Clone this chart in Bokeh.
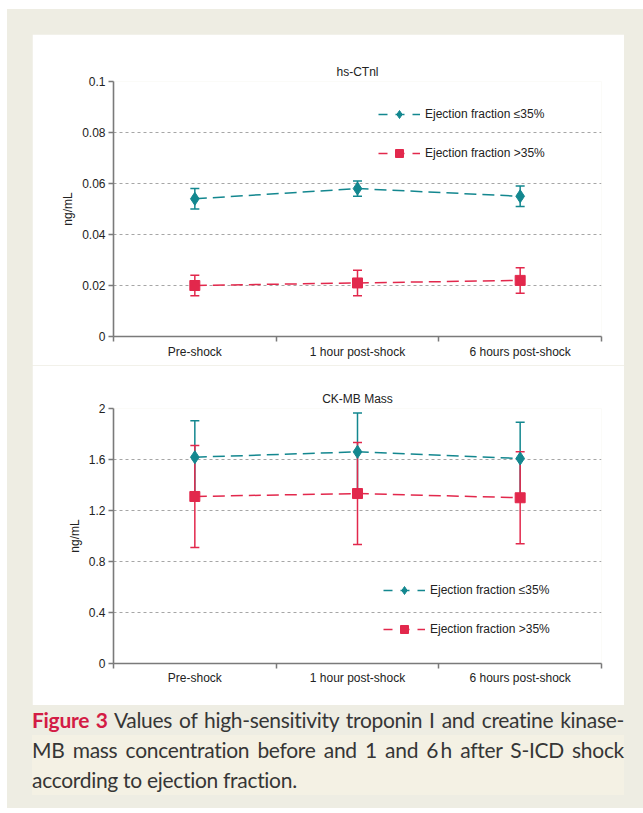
import numpy as np
from bokeh.plotting import figure
from bokeh.models import (ColumnDataSource, Whisker, TeeHead, FixedTicker, NumeralTickFormatter,
                          Legend, LegendItem, Range1d, Div, Spacer)
from bokeh.layouts import column, row
from bokeh.embed import file_html
from bokeh.resources import INLINE

# ---------------- data ----------------
categories = ["Pre-shock", "1 hour post-shock", "6 hours post-shock"]
series_names = ["Ejection fraction \u226435%", "Ejection fraction >35%"]

tn_title = "hs-CTnl"
tn_low = [0.054, 0.058, 0.055]
tn_low_err = [0.004, 0.003, 0.004]
tn_high = [0.020, 0.021, 0.022]
tn_high_err = [0.004, 0.005, 0.005]
tn_ticks = [0, 0.02, 0.04, 0.06, 0.08, 0.1]

ck_title = "CK-MB Mass"
ck_low = [1.618, 1.66, 1.608]
ck_low_err = [0.285, 0.305, 0.285]
ck_high = [1.31, 1.333, 1.30]
ck_high_err = [0.40, 0.40, 0.36]
ck_ticks = [0, 0.4, 0.8, 1.2, 1.6, 2.0]

y_label = "ng/mL"

TEAL = "#13878F"
RED = "#E2284C"
BEIGE = "#EEEDE3"
FONT = "Liberation Sans"


def make_chart(title, ticks, fmt, low, low_err, high, high_err, height,
               mb_left, mb_right, mb_top, mb_bottom, legend_loc, x_standoff):
    n = len(categories)
    xs = list(np.arange(n) + 0.5)
    p = figure(width=592, height=height, x_range=Range1d(0, n),
               y_range=Range1d(ticks[0], ticks[-1]), title=title,
               output_backend="svg", toolbar_location=None,
               min_border_left=mb_left, min_border_right=mb_right,
               min_border_top=mb_top, min_border_bottom=mb_bottom)
    # range far away from the data: the legend key lines are drawn through it, so
    # they are clipped out of the frame and only their legend glyph shows
    p.extra_y_ranges = {"key": Range1d(1e6, 1e6 + 1)}
    p.background_fill_color = "white"
    p.border_fill_color = "white"
    p.outline_line_color = None
    p.title.align = "center"
    p.title.text_font = FONT
    p.title.text_font_size = "12px"
    p.title.text_font_style = "normal"
    p.title.text_color = "#222222"
    p.title.standoff = 6

    items = []
    for name, vals, errs, color, marker, msize in (
            (series_names[0], low, low_err, TEAL, "diamond", 13),
            (series_names[1], high, high_err, RED, "square", 10)):
        src = ColumnDataSource(dict(
            x=xs, y=vals,
            upper=[v + e for v, e in zip(vals, errs)],
            lower=[v - e for v, e in zip(vals, errs)]))
        p.line('x', 'y', source=src, line_color=color, line_width=1.5, line_dash="12 6")
        w = Whisker(base='x', upper='upper', lower='lower', source=src,
                    line_color=color, line_width=1.5,
                    upper_head=TeeHead(size=9, line_color=color, line_width=1.5),
                    lower_head=TeeHead(size=9, line_color=color, line_width=1.5))
        p.add_layout(w)
        rm = p.scatter('x', 'y', source=src, marker=marker, size=msize,
                       fill_color=color, line_color=color)
        rk = p.line('x', 'y', source=src, y_range_name="key", line_color=color,
                    line_width=1.5, line_dash="9 8")
        items.append(LegendItem(label=name, renderers=[rk, rm]))

    legend = Legend(items=items,
                    location=legend_loc, orientation="vertical", padding=0, margin=0,
                    spacing=19, label_height=20, glyph_height=20, glyph_width=42,
                    label_standoff=5, label_text_font=FONT, label_text_font_size="12px",
                    label_text_color="#222222", background_fill_alpha=0,
                    border_line_color=None)
    p.add_layout(legend)

    # x axis: labels at category centres, ticks at boundaries
    xa = p.xaxis[0]
    xa.ticker = FixedTicker(ticks=xs, minor_ticks=list(range(n + 1)))
    xa.major_label_overrides = {x: c for x, c in zip(xs, categories)}
    xa.major_tick_out = 0
    xa.major_tick_in = 0
    xa.minor_tick_out = 5
    xa.minor_tick_in = 0
    xa.major_label_standoff = x_standoff
    xa.major_label_text_font = FONT
    xa.major_label_text_font_size = "12px"
    xa.major_label_text_color = "#222222"

    ya = p.yaxis[0]
    ya.ticker = FixedTicker(ticks=ticks)
    ya.formatter = NumeralTickFormatter(format=fmt)
    ya.major_tick_out = 5
    ya.major_tick_in = 0
    ya.minor_tick_line_color = None
    ya.major_label_standoff = 3
    ya.major_label_text_font = FONT
    ya.major_label_text_font_size = "12px"
    ya.major_label_text_color = "#222222"
    ya.axis_label = y_label
    ya.axis_label_text_font = FONT
    ya.axis_label_text_font_size = "12px"
    ya.axis_label_text_font_style = "normal"
    ya.axis_label_text_color = "#222222"
    ya.axis_label_standoff = 4

    for ax in (xa, ya):
        ax.axis_line_color = "#7a7a7a"
        ax.axis_line_width = 1.6
        ax.major_tick_line_color = "#7a7a7a"
        ax.minor_tick_line_color = "#7a7a7a" if ax is xa else None
        ax.major_tick_line_width = 1.5
        ax.minor_tick_line_width = 1.5

    p.xgrid.visible = False
    p.ygrid.grid_line_color = "#a6a6a6"
    p.ygrid.grid_line_dash = "3 3"
    p.ygrid.grid_line_width = 1
    return p


p1 = make_chart(tn_title, tn_ticks, "0.[00]", tn_low, tn_low_err, tn_high, tn_high_err,
                331, 81, 22, 47, 29, (265, 173), 3)
p2 = make_chart(ck_title, ck_ticks, "0.[0]", ck_low, ck_low_err, ck_high, ck_high_err,
                340, 74, 23, 43, 42, (270, 24), 2)

caption_html = """
<div style="width:592px;margin-left:25px;font-family:Lato,sans-serif;font-size:21px;color:#363636;line-height:30px;letter-spacing:-0.3px;">
  <div style="text-align:justify;text-align-last:justify;height:30px;white-space:nowrap;"><span style="color:#D31C45;font-weight:bold;">Figure 3</span>&nbsp;Values of high-sensitivity troponin I and creatine kinase-</div>
  <div style="background:#F4F1E4;height:60px;">
    <div style="text-align:justify;text-align-last:justify;height:30px;white-space:nowrap;">MB mass concentration before and 1 and 6&#8201;h after S-ICD shock</div>
    <div style="text-align:left;height:30px;">according to ejection fraction.</div>
  </div>
</div>
"""
caption = Div(text=caption_html, width=636, height=103, margin=0)

charts = column(p1, p2, spacing=0)
panel = column(Spacer(width=636, height=25),
               row(Spacer(width=25, height=671), charts, spacing=0),
               caption, spacing=0, width=636, height=799,
               styles={"background-color": BEIGE})
root = column(Spacer(width=643, height=9),
              row(Spacer(width=7, height=799), panel, spacing=0),
              spacing=0, width=643, height=808)

open("out.html", "w").write(file_html(root, INLINE))
